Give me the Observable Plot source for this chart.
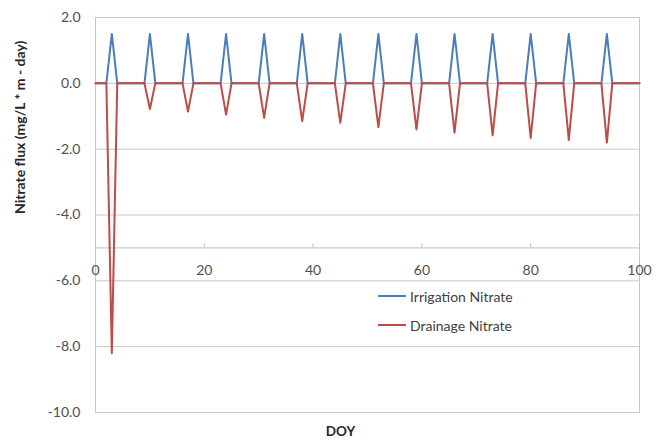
<!DOCTYPE html>
<html><head><meta charset="utf-8">
<script src="https://cdn.jsdelivr.net/npm/d3@7"></script>
<script src="https://cdn.jsdelivr.net/npm/@observablehq/plot@0.6"></script>
<style>
body{margin:0;background:#fff;}
#wrap{position:relative;width:666px;height:446px;font-family:Lato,"Open Sans",sans-serif;}
.leg{position:absolute;left:378px;font-size:14px;color:#404040;display:flex;align-items:center;white-space:nowrap;}
.leg span.sw{display:inline-block;width:28px;height:2px;margin-right:4px;}
</style>
</head><body><div id="wrap"></div>
<script>
const eventDays = [3, 10, 17, 24, 31, 38, 45, 52, 59, 66, 73, 80, 87, 94];
const irrigationPeak = [1.5, 1.5, 1.5, 1.5, 1.5, 1.5, 1.5, 1.5, 1.5, 1.5, 1.5, 1.5, 1.5, 1.5];
const drainageDip = [-8.2, -0.78, -0.86, -0.95, -1.05, -1.15, -1.2, -1.33, -1.4, -1.5, -1.58, -1.66, -1.72, -1.8];
const xTicks = [0, 20, 40, 60, 80, 100];
const yTicks = [-10, -8, -6, -4, -2, 0, 2];
const xAxisCross = -5;
const seriesNames = ["Irrigation Nitrate", "Drainage Nitrate"];
const seriesColors = ["#4a7ebb", "#be4b48"];

const days = d3.range(0, 101);
function build(vals) {
  const m = new Map(eventDays.map((d, i) => [d, vals[i]]));
  return days.map(d => ({day: d, value: m.has(d) ? m.get(d) : 0}));
}
const irr = build(irrigationPeak);
const dra = build(drainageDip);

const chart = Plot.plot({
  width: 666, height: 446,
  marginLeft: 95, marginRight: 27, marginTop: 17, marginBottom: 34,
  x: {domain: [0, 100], axis: null},
  y: {domain: [-10, 2]},
  style: {fontFamily: "Lato, 'Open Sans', sans-serif", fontSize: "14px", color: "#505050", background: "#fff"},
  marks: [
    Plot.gridY(yTicks, {stroke: "#c8c8c8", strokeOpacity: 1}),
    Plot.ruleY([xAxisCross], {stroke: "#c0c0c0"}),
    Plot.frame({stroke: "#c8c8c8"}),
    Plot.axisY(yTicks, {tickSize: 0, tickPadding: 15, tickFormat: d => d.toFixed(1), label: null, fontSize: 14, fill: "#505050"}),
    Plot.ruleX(xTicks, {y1: xAxisCross, y2: xAxisCross + 0.12, stroke: "#c0c0c0"}),
    Plot.text(xTicks, {x: d => d, y: () => xAxisCross, dy: 23, text: d => String(d), fill: "#505050", fontSize: 14}),
    Plot.line(irr, {x: "day", y: "value", stroke: seriesColors[0], strokeWidth: 2}),
    Plot.line(dra, {x: "day", y: "value", stroke: seriesColors[1], strokeWidth: 2}),
    Plot.text(["Nitrate flux (mg/L * m - day)"], {frameAnchor: "left", rotate: -90, dx: -75, dy: -1, fontWeight: "bold", fontSize: 14, fill: "#262626"}),
    Plot.text(["DOY"], {frameAnchor: "bottom", dy: 23, dx: -27, fontWeight: "bold", fontSize: 13.5, fill: "#262626"})
  ]
});
const wrap = document.getElementById("wrap");
wrap.appendChild(chart);
seriesNames.forEach((n, i) => {
  const d = document.createElement("div");
  d.className = "leg";
  d.style.top = (296 + i * 29 - 10) + "px";
  d.style.height = "20px";
  d.innerHTML = `<span class="sw" style="background:${seriesColors[i]}"></span>${n}`;
  wrap.appendChild(d);
});
</script>
</body></html>
